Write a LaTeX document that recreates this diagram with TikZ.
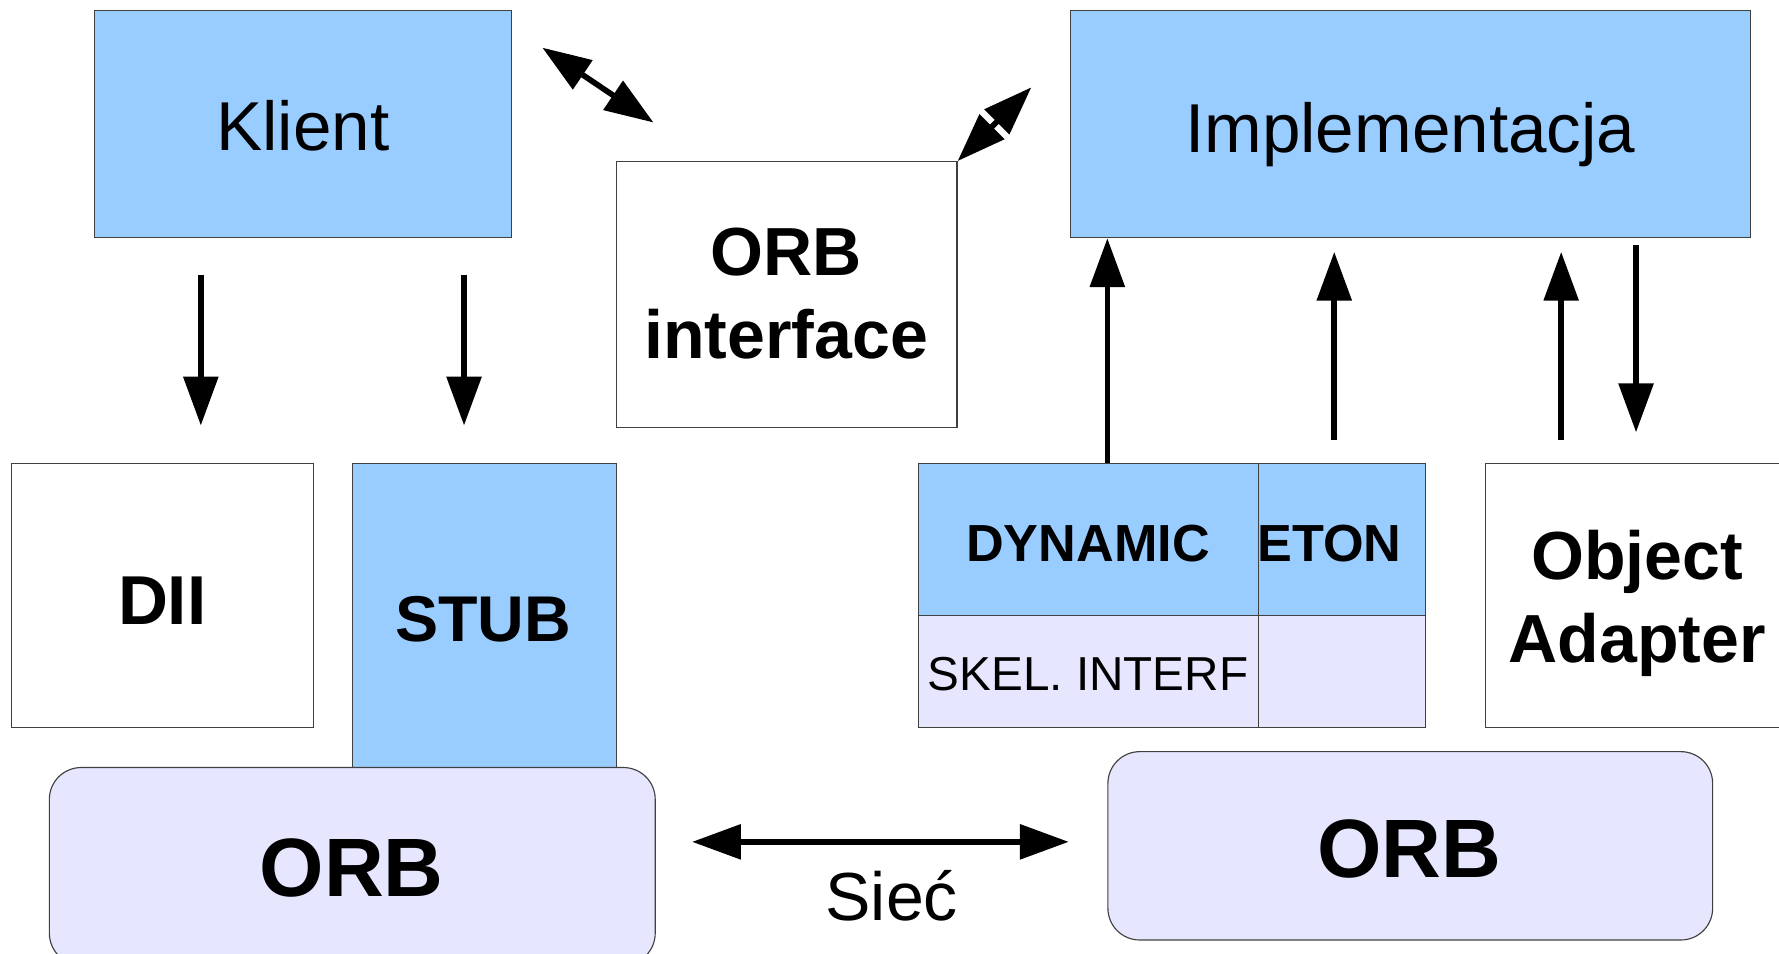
\documentclass[tikz,border=0pt]{standalone}
\usepackage{fontspec}
\setmainfont{Liberation Sans}
\usetikzlibrary{arrows.meta}
\definecolor{skyb}{HTML}{99CCFF}
\definecolor{lav}{HTML}{E6E6FF}
\begin{document}
\begin{tikzpicture}[x=1pt,y=-1pt,
  box/.style={draw=black!75, line width=1pt, rectangle, inner sep=0pt, anchor=north west},
  orbbox/.style={draw=black!75, line width=1pt, rectangle, rounded corners=28pt, inner sep=0pt, anchor=north west, fill=lav},
  txt/.style={anchor=base, inner sep=0pt},
  arr/.style={line width=5pt, -{Triangle[length=43pt,width=30pt]}},
  darr/.style={line width=5pt, {Triangle[length=43pt,width=30pt]}-{Triangle[length=43pt,width=30pt]}},
  regtxt/.style={txt, font=\fontsize{61}{72}\selectfont},
  boldtxt/.style={txt, font=\fontsize{60}{72}\selectfont\bfseries},
  orbtxt/.style={txt, font=\fontsize{73}{80}\selectfont\bfseries},
  celltxt/.style={txt, font=\fontsize{46}{50}\selectfont\bfseries}]
\useasboundingbox (0,0) rectangle (1568,840);
\clip (0,0) rectangle (1568,840);
% boxes
\node[box, fill=skyb, minimum width=367pt, minimum height=200pt] (klient) at (83,9) {};
\node[regtxt] (klientT) at (267,133) {Klient};
\node[box, fill=white, minimum width=300pt, minimum height=234pt] (orbi) at (543,142) {};
\node[boldtxt] (orbiT1) at (693,243) {ORB};
\node[boldtxt] (orbiT2) at (693,316) {interface};
\node[box, fill=skyb, minimum width=599pt, minimum height=200pt] (impl) at (943,9) {};
\node[regtxt] (implT) at (1243,134) {Implementacja};
\node[box, fill=white, minimum width=266pt, minimum height=233pt] (dii) at (10,408) {};
\node[txt, font=\fontsize{61}{70}\selectfont\bfseries] (diiT) at (143,550) {DII};
\node[box, fill=skyb, minimum width=233pt, minimum height=268pt] (stub) at (310,408) {};
\node[txt, font=\fontsize{57}{66}\selectfont\bfseries] (stubT) at (426,565) {STUB};
% table
\node[box, fill=skyb, minimum width=147pt, minimum height=134pt] (skel) at (1109,408) {};
\node[celltxt, anchor=base west] (eton) at (1108,495) {ETON};
\node[box, fill=skyb, minimum width=300pt, minimum height=134pt] (dyn) at (809,408) {};
\node[celltxt] (dynT) at (959,495) {DYNAMIC};
\node[box, fill=lav, minimum width=300pt, minimum height=99pt] (skint) at (809,542) {};
\node[txt, font=\fontsize{42}{48}\selectfont] (skintT) at (959,609) {SKEL. INTERF};
\node[box, fill=lav, minimum width=147pt, minimum height=99pt] (skint2) at (1109,542) {};
\node[box, fill=white, minimum width=268pt, minimum height=233pt] (oa) at (1309,408) {};
\node[boldtxt] (oaT1) at (1443,511) {Object};
\node[boldtxt] (oaT2) at (1443,584) {Adapter};
% ORBs
\node[orbbox, minimum width=534pt, minimum height=174pt] (orbl) at (43,676) {};
\node[orbtxt] (orblT) at (310,790) {ORB};
\node[orbbox, minimum width=533pt, minimum height=166pt] (orbr) at (976,662) {};
\node[orbtxt] (orbrT) at (1242,773) {ORB};
% coordinates for arrow ends
\coordinate (a1s) at (177,242); \coordinate (a1e) at (177,375);
\coordinate (a2s) at (409,242); \coordinate (a2e) at (409,375);
\coordinate (dx) at (976,0);
\coordinate (a4s) at (1176,388); \coordinate (a4e) at (1176,222);
\coordinate (a5s) at (1376,388); \coordinate (a5e) at (1376,222);
\coordinate (a6s) at (1442,216); \coordinate (a6e) at (1442,381);
\coordinate (d1s) at (478,42); \coordinate (d1e) at (576,108);
\coordinate (d2e) at (909,77);
\coordinate (ns) at (610,742); \coordinate (ne) at (942,742);
% arrows
\draw[arr] (a1s) -- (a1e);
\draw[arr] (a2s) -- (a2e);
\draw[arr] (dyn.north -| dx) -- (impl.south -| dx);
\draw[arr] (a4s) -- (a4e);
\draw[arr] (a5s) -- (a5e);
\draw[arr] (a6s) -- (a6e);
\draw[darr] (d1s) -- (d1e);
\draw[darr] (orbi.north east) -- (d2e);
\draw[darr] (ns) -- (ne);
\node[txt, font=\fontsize{60}{70}\selectfont] (siec) at (786,811) {Sieć};
\end{tikzpicture}
\end{document}
